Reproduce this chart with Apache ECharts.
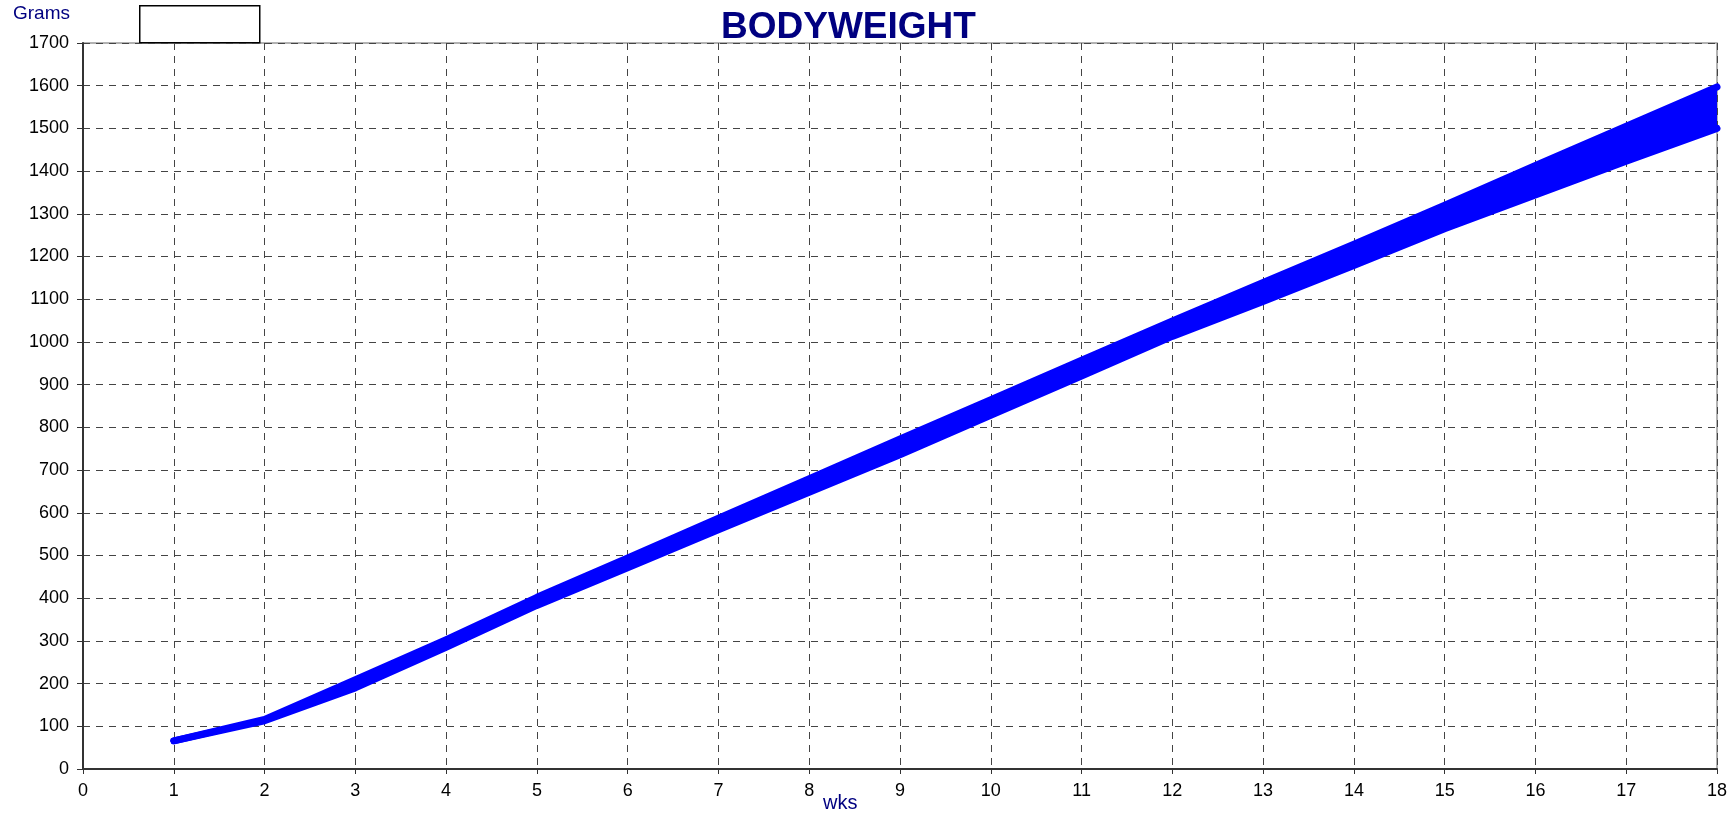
<!DOCTYPE html>
<html>
<head>
<meta charset="utf-8">
<script src="https://cdn.jsdelivr.net/npm/echarts@6/dist/echarts.min.js"></script>
<style>
    html, body { margin: 0; padding: 0; background: #fff; }
    #main { width: 1735px; height: 817px; }
</style>
</head>
<body>
<div id="main"></div>
<script>
// weeks on the x axis
var weeks = [1, 2, 3, 4, 5, 6, 7, 8, 9, 10, 11, 12, 13, 14, 15, 16, 17, 18];
// upper and lower limit of the bodyweight band (grams)
var upperGrams = [66, 116, 209, 303, 402, 494, 587, 680, 773, 865, 957, 1049, 1139, 1229, 1320, 1413, 1505, 1597];
var lowerGrams = [66, 113, 190, 285, 383, 471, 560, 648, 736, 828, 920, 1013, 1095, 1179, 1265, 1344, 1423, 1500];

var labelFont = 'Liberation Sans';
var navy = '#000080';
var bandColor = '#0000ff';

var chart = echarts.init(document.getElementById('main'), null, { renderer: 'canvas' });

var upperData = [];
var lowerData = [];
for (var i = 0; i < weeks.length; i++) {
    upperData.push([weeks[i], upperGrams[i]]);
    lowerData.push([weeks[i], lowerGrams[i]]);
}

// fill between the two limits, drawn once as a single polygon
function renderBand(params, api) {
    if (params.dataIndex !== 0) return;
    var pts = [];
    for (var k = 0; k < weeks.length; k++) pts.push(api.coord([weeks[k], upperGrams[k]]));
    for (var k = weeks.length - 1; k >= 0; k--) pts.push(api.coord([weeks[k], lowerGrams[k]]));
    return {
        type: 'polygon',
        shape: { points: pts },
        style: { fill: bandColor, stroke: bandColor, lineWidth: 1 }
    };
}

var bandIdx = [];
for (var j = 0; j < weeks.length; j++) bandIdx.push([weeks[j], lowerGrams[j]]);

var dashed = { color: '#444', width: 1, type: [7, 6] };
var plain = function (v) { return '' + v; };

var option = {
    animation: false,
    backgroundColor: '#fff',
    title: {
        text: 'BODYWEIGHT',
        left: 716,
        top: 4,
        textStyle: { fontFamily: labelFont, fontSize: 37, fontWeight: 'bold', color: navy }
    },
    grid: {
        left: 83, top: 43, right: 18, bottom: 48,
        show: true,
        borderColor: '#999',
        borderWidth: 1.5
    },
    xAxis: {
        type: 'value',
        min: 0, max: 18, interval: 1,
        axisLine: { onZero: false, lineStyle: { color: '#333', width: 2 } },
        axisTick: { show: true, length: 5, lineStyle: { color: '#333' } },
        axisLabel: { fontFamily: labelFont, fontSize: 18, color: '#000', margin: 13, formatter: plain },
        splitLine: { show: true, lineStyle: dashed }
    },
    yAxis: {
        type: 'value',
        min: 0, max: 1700, interval: 100,
        axisLine: { show: true, lineStyle: { color: '#333', width: 2 } },
        axisTick: { show: true, length: 6, lineStyle: { color: '#333' } },
        axisLabel: { fontFamily: labelFont, fontSize: 18, color: '#000', margin: 14, formatter: plain },
        splitLine: { show: true, lineStyle: dashed }
    },
    graphic: [
        {
            type: 'text', left: 13, top: 4,
            style: { text: 'Grams', font: '19px "Liberation Sans"', fill: navy }
        },
        {
            type: 'text', left: 823, top: 793,
            style: { text: 'wks', font: '20px "Liberation Sans"', fill: navy }
        },
        {
            type: 'rect', left: 139, top: 5,
            shape: { width: 120, height: 37 },
            style: { fill: '#fff', stroke: '#000', lineWidth: 1.5 }
        }
    ],
    series: [
        {
            name: 'band',
            type: 'custom',
            renderItem: renderBand,
            data: bandIdx,
            clip: true,
            silent: true,
            z: 3
        },
        {
            name: 'lower',
            type: 'line',
            data: lowerData,
            symbol: 'none',
            lineStyle: { color: bandColor, width: 7, cap: 'round', join: 'round' },
            z: 4
        },
        {
            name: 'upper',
            type: 'line',
            data: upperData,
            symbol: 'none',
            lineStyle: { color: bandColor, width: 7, cap: 'round', join: 'round' },
            z: 4
        }
    ]
};

chart.setOption(option);
</script>
</body>
</html>
